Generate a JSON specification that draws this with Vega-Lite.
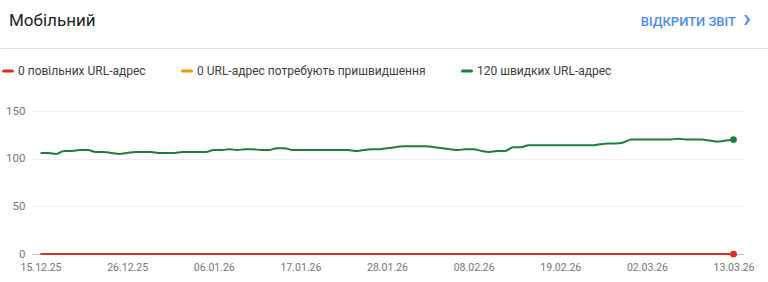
{
  "$schema": "https://vega.github.io/schema/vega-lite/v6.json",
  "background": "white",
  "padding": 0,
  "spacing": 15,
  "config": {"font": "Roboto", "view": {"stroke": null}},
  "resolve": {"scale": {"color": "independent"}},
  "vconcat": [
    {
      "width": 736,
      "height": 48,
      "data": {"values": [{"title": "Мобільний", "link": "ВІДКРИТИ ЗВІТ", "chevron": "›"}]},
      "encoding": {
        "x": {"datum": 0, "type": "quantitative", "scale": {"domain": [0, 1], "range": [-32, 736]},
          "axis": {"title": null, "labels": false, "ticks": false, "grid": false, "domain": true, "domainColor": "#dadce0", "domainWidth": 1}}
      },
      "layer": [
        {"mark": {"type": "text", "align": "left", "baseline": "alphabetic", "dx": 9, "dy": 2, "fontSize": 17, "color": "#202124"},
         "encoding": {"x": {"datum": 0, "type": "quantitative"}, "text": {"field": "title"}}},
        {"mark": {"type": "text", "align": "right", "baseline": "alphabetic", "dx": -32, "dy": 1.5, "fontSize": 13, "fontWeight": 500, "color": "#4a8af4"},
         "encoding": {"x": {"datum": 1, "type": "quantitative"}, "text": {"field": "link"}}},
        {"mark": {"type": "text", "align": "center", "baseline": "alphabetic", "dx": -21, "dy": 3, "fontSize": 26, "fontWeight": 500, "color": "#4a8af4"},
         "encoding": {"x": {"datum": 1, "type": "quantitative"}, "text": {"field": "chevron"}}}
      ]
    },
    {
      "width": 712,
      "height": 143,
      "data": {"values": [
        {"date": "2025-12-15", "fast": 106, "needs": 0, "slow": 0},
        {"date": "2025-12-16", "fast": 106, "needs": 0, "slow": 0},
        {"date": "2025-12-17", "fast": 105, "needs": 0, "slow": 0},
        {"date": "2025-12-18", "fast": 108, "needs": 0, "slow": 0},
        {"date": "2025-12-19", "fast": 108, "needs": 0, "slow": 0},
        {"date": "2025-12-20", "fast": 109, "needs": 0, "slow": 0},
        {"date": "2025-12-21", "fast": 109, "needs": 0, "slow": 0},
        {"date": "2025-12-22", "fast": 107, "needs": 0, "slow": 0},
        {"date": "2025-12-23", "fast": 107, "needs": 0, "slow": 0},
        {"date": "2025-12-24", "fast": 106, "needs": 0, "slow": 0},
        {"date": "2025-12-25", "fast": 105, "needs": 0, "slow": 0},
        {"date": "2025-12-26", "fast": 106, "needs": 0, "slow": 0},
        {"date": "2025-12-27", "fast": 107, "needs": 0, "slow": 0},
        {"date": "2025-12-28", "fast": 107, "needs": 0, "slow": 0},
        {"date": "2025-12-29", "fast": 107, "needs": 0, "slow": 0},
        {"date": "2025-12-30", "fast": 106, "needs": 0, "slow": 0},
        {"date": "2025-12-31", "fast": 106, "needs": 0, "slow": 0},
        {"date": "2026-01-01", "fast": 106, "needs": 0, "slow": 0},
        {"date": "2026-01-02", "fast": 107, "needs": 0, "slow": 0},
        {"date": "2026-01-03", "fast": 107, "needs": 0, "slow": 0},
        {"date": "2026-01-04", "fast": 107, "needs": 0, "slow": 0},
        {"date": "2026-01-05", "fast": 107, "needs": 0, "slow": 0},
        {"date": "2026-01-06", "fast": 109, "needs": 0, "slow": 0},
        {"date": "2026-01-07", "fast": 109, "needs": 0, "slow": 0},
        {"date": "2026-01-08", "fast": 110, "needs": 0, "slow": 0},
        {"date": "2026-01-09", "fast": 109, "needs": 0, "slow": 0},
        {"date": "2026-01-10", "fast": 110, "needs": 0, "slow": 0},
        {"date": "2026-01-11", "fast": 110, "needs": 0, "slow": 0},
        {"date": "2026-01-12", "fast": 109, "needs": 0, "slow": 0},
        {"date": "2026-01-13", "fast": 109, "needs": 0, "slow": 0},
        {"date": "2026-01-14", "fast": 111, "needs": 0, "slow": 0},
        {"date": "2026-01-15", "fast": 111, "needs": 0, "slow": 0},
        {"date": "2026-01-16", "fast": 109, "needs": 0, "slow": 0},
        {"date": "2026-01-17", "fast": 109, "needs": 0, "slow": 0},
        {"date": "2026-01-18", "fast": 109, "needs": 0, "slow": 0},
        {"date": "2026-01-19", "fast": 109, "needs": 0, "slow": 0},
        {"date": "2026-01-20", "fast": 109, "needs": 0, "slow": 0},
        {"date": "2026-01-21", "fast": 109, "needs": 0, "slow": 0},
        {"date": "2026-01-22", "fast": 109, "needs": 0, "slow": 0},
        {"date": "2026-01-23", "fast": 109, "needs": 0, "slow": 0},
        {"date": "2026-01-24", "fast": 108, "needs": 0, "slow": 0},
        {"date": "2026-01-25", "fast": 109, "needs": 0, "slow": 0},
        {"date": "2026-01-26", "fast": 110, "needs": 0, "slow": 0},
        {"date": "2026-01-27", "fast": 110, "needs": 0, "slow": 0},
        {"date": "2026-01-28", "fast": 111, "needs": 0, "slow": 0},
        {"date": "2026-01-29", "fast": 112, "needs": 0, "slow": 0},
        {"date": "2026-01-30", "fast": 113, "needs": 0, "slow": 0},
        {"date": "2026-01-31", "fast": 113, "needs": 0, "slow": 0},
        {"date": "2026-02-01", "fast": 113, "needs": 0, "slow": 0},
        {"date": "2026-02-02", "fast": 113, "needs": 0, "slow": 0},
        {"date": "2026-02-03", "fast": 112, "needs": 0, "slow": 0},
        {"date": "2026-02-04", "fast": 111, "needs": 0, "slow": 0},
        {"date": "2026-02-05", "fast": 110, "needs": 0, "slow": 0},
        {"date": "2026-02-06", "fast": 109, "needs": 0, "slow": 0},
        {"date": "2026-02-07", "fast": 110, "needs": 0, "slow": 0},
        {"date": "2026-02-08", "fast": 110, "needs": 0, "slow": 0},
        {"date": "2026-02-09", "fast": 108, "needs": 0, "slow": 0},
        {"date": "2026-02-10", "fast": 107, "needs": 0, "slow": 0},
        {"date": "2026-02-11", "fast": 108, "needs": 0, "slow": 0},
        {"date": "2026-02-12", "fast": 108, "needs": 0, "slow": 0},
        {"date": "2026-02-13", "fast": 112, "needs": 0, "slow": 0},
        {"date": "2026-02-14", "fast": 112, "needs": 0, "slow": 0},
        {"date": "2026-02-15", "fast": 114, "needs": 0, "slow": 0},
        {"date": "2026-02-16", "fast": 114, "needs": 0, "slow": 0},
        {"date": "2026-02-17", "fast": 114, "needs": 0, "slow": 0},
        {"date": "2026-02-18", "fast": 114, "needs": 0, "slow": 0},
        {"date": "2026-02-19", "fast": 114, "needs": 0, "slow": 0},
        {"date": "2026-02-20", "fast": 114, "needs": 0, "slow": 0},
        {"date": "2026-02-21", "fast": 114, "needs": 0, "slow": 0},
        {"date": "2026-02-22", "fast": 114, "needs": 0, "slow": 0},
        {"date": "2026-02-23", "fast": 114, "needs": 0, "slow": 0},
        {"date": "2026-02-24", "fast": 115, "needs": 0, "slow": 0},
        {"date": "2026-02-25", "fast": 116, "needs": 0, "slow": 0},
        {"date": "2026-02-26", "fast": 116, "needs": 0, "slow": 0},
        {"date": "2026-02-27", "fast": 117, "needs": 0, "slow": 0},
        {"date": "2026-02-28", "fast": 120, "needs": 0, "slow": 0},
        {"date": "2026-03-01", "fast": 120, "needs": 0, "slow": 0},
        {"date": "2026-03-02", "fast": 120, "needs": 0, "slow": 0},
        {"date": "2026-03-03", "fast": 120, "needs": 0, "slow": 0},
        {"date": "2026-03-04", "fast": 120, "needs": 0, "slow": 0},
        {"date": "2026-03-05", "fast": 120, "needs": 0, "slow": 0},
        {"date": "2026-03-06", "fast": 121, "needs": 0, "slow": 0},
        {"date": "2026-03-07", "fast": 120, "needs": 0, "slow": 0},
        {"date": "2026-03-08", "fast": 120, "needs": 0, "slow": 0},
        {"date": "2026-03-09", "fast": 120, "needs": 0, "slow": 0},
        {"date": "2026-03-10", "fast": 119, "needs": 0, "slow": 0},
        {"date": "2026-03-11", "fast": 118, "needs": 0, "slow": 0},
        {"date": "2026-03-12", "fast": 119, "needs": 0, "slow": 0},
        {"date": "2026-03-13", "fast": 120, "needs": 0, "slow": 0}
      ]},
      "transform": [{"fold": ["fast", "needs", "slow"], "as": ["series", "value"]}],
      "encoding": {
        "x": {"field": "date", "type": "temporal",
          "scale": {"type": "utc", "domain": [{"year": 2025, "month": 12, "date": 13, "hours": 22, "utc": true}, {"year": 2026, "month": 3, "date": 14, "hours": 8, "utc": true}]},
          "axis": {"title": null, "grid": false, "domain": false, "ticks": false, "tickSize": 0, "labelPadding": 8,
            "labelExpr": "utcFormat(datum.value, '%d.%m.%y')", "labelFontSize": 10.5, "labelColor": "#757575", "labelFlush": false,
            "values": [
              {"year": 2025, "month": 12, "date": 15, "utc": true},
              {"year": 2025, "month": 12, "date": 26, "utc": true},
              {"year": 2026, "month": 1, "date": 6, "utc": true},
              {"year": 2026, "month": 1, "date": 17, "utc": true},
              {"year": 2026, "month": 1, "date": 28, "utc": true},
              {"year": 2026, "month": 2, "date": 8, "utc": true},
              {"year": 2026, "month": 2, "date": 19, "utc": true},
              {"year": 2026, "month": 3, "date": 2, "utc": true},
              {"year": 2026, "month": 3, "date": 13, "utc": true}
            ]}},
        "y": {"field": "value", "type": "quantitative", "scale": {"domain": [0, 150]},
          "axis": {"title": null, "values": [0, 50, 100, 150], "domain": false, "ticks": false, "tickSize": 0, "labelPadding": 7,
            "labelFontSize": 11.5, "labelColor": "#757575",
            "gridColor": {"condition": {"test": "datum.value === 0", "value": "#bdbdbd"}, "value": "#eeeeee"}, "gridWidth": 1}},
        "color": {"field": "series", "type": "nominal",
          "scale": {"domain": ["slow", "needs", "fast"], "range": ["#d93025", "#f29900", "#188038"]},
          "legend": {"orient": "none", "legendX": -32, "legendY": -48, "direction": "horizontal", "title": null,
            "padding": 2, "symbolType": "stroke", "symbolStrokeWidth": 3, "symbolSize": 81, "labelOffset": 4, "labelLimit": 400,
            "labelFontSize": 12, "labelColor": "#3c4043", "columnPadding": 30,
            "labelExpr": "datum.label == 'slow' ? '0 повільних URL-адрес' : datum.label == 'needs' ? '0 URL-адрес потребують пришвидшення' : '120 швидких URL-адрес'",
            "encode": {"symbols": {"update": {"strokeCap": {"value": "round"}}}}}}
      },
      "layer": [
        {"mark": {"type": "line", "strokeWidth": 2, "interpolate": "monotone"}},
        {"transform": [{"filter": "utcyear(datum.date) == 2026 && utcmonth(datum.date) == 2 && utcdate(datum.date) == 13"}],
         "mark": {"type": "point", "filled": true, "size": 45, "opacity": 1},
         "encoding": {"color": {"field": "series", "type": "nominal", "legend": null}}}
      ]
    }
  ]
}
